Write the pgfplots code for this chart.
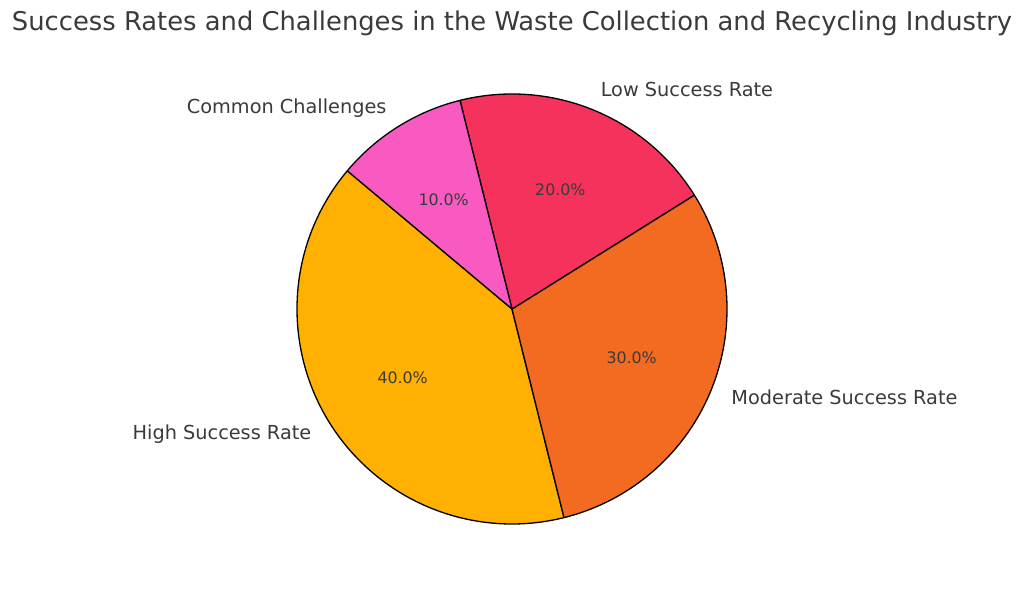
\documentclass[border=0pt]{standalone}
\usepackage{pgfplots}
\pgfplotsset{compat=1.18}
\usepackage{fontspec}
\setmainfont{DejaVu Sans}
\definecolor{cHigh}{HTML}{FFB000}
\definecolor{cMod}{HTML}{F26B21}
\definecolor{cLow}{HTML}{F5325B}
\definecolor{cCom}{HTML}{F85AC1}
\definecolor{txt}{HTML}{3A3A3A}
% values (percent) and start angle of first slice
\def\vHigh{40}
\def\vMod{30}
\def\vLow{20}
\def\vCom{10}
\def\startA{140}
\def\cx{512}
\def\cy{280}
\def\R{215}
\pgfmathsetmacro{\aA}{\startA}
\pgfmathsetmacro{\aB}{\aA+3.6*\vHigh}
\pgfmathsetmacro{\aC}{\aB+3.6*\vMod}
\pgfmathsetmacro{\aD}{\aC+3.6*\vLow}
\pgfmathsetmacro{\aE}{\aD+3.6*\vCom}
% percentage positions (0.6 R) and label positions (1.1 R)
\newcommand\pos[4]{%
  \pgfmathsetmacro{#3}{\cx+#2*\R*cos(#1)}%
  \pgfmathsetmacro{#4}{\cy+#2*\R*sin(#1)}}
\pos{(\aA+\aB)/2}{0.6}{\pHx}{\pHy}\pos{(\aA+\aB)/2}{1.1}{\lHx}{\lHy}
\pos{(\aB+\aC)/2}{0.6}{\pMx}{\pMy}\pos{(\aB+\aC)/2}{1.1}{\lMx}{\lMy}
\pos{(\aC+\aD)/2}{0.6}{\pLx}{\pLy}\pos{(\aC+\aD)/2}{1.1}{\lLx}{\lLy}
\pos{(\aD+\aE)/2}{0.6}{\pCx}{\pCy}\pos{(\aD+\aE)/2}{1.1}{\lCx}{\lCy}
\begin{document}
\begin{tikzpicture}
\begin{axis}[
  width=1024pt, height=589pt, scale only axis,
  xmin=0, xmax=1024, ymin=0, ymax=589,
  hide axis, clip=false,
]
\path (axis cs:0,0) rectangle (axis cs:1024,589);
\filldraw[fill=cHigh,draw=black,line width=1.3pt,line join=round] (axis cs:\cx,\cy) -- ++(\aA:\R pt) arc[start angle=\aA,end angle=\aB,radius=\R pt] -- cycle;
\filldraw[fill=cMod,draw=black,line width=1.3pt,line join=round] (axis cs:\cx,\cy) -- ++(\aB:\R pt) arc[start angle=\aB,end angle=\aC,radius=\R pt] -- cycle;
\filldraw[fill=cLow,draw=black,line width=1.3pt,line join=round] (axis cs:\cx,\cy) -- ++(\aC:\R pt) arc[start angle=\aC,end angle=\aD,radius=\R pt] -- cycle;
\filldraw[fill=cCom,draw=black,line width=1.3pt,line join=round] (axis cs:\cx,\cy) -- ++(\aD:\R pt) arc[start angle=\aD,end angle=\aE,radius=\R pt] -- cycle;
\begin{scope}[every node/.style={text=txt,inner sep=0pt,font=\fontsize{15.8}{18}\selectfont}]
\node at (axis cs:\pHx,\pHy) {\vHigh.0\%};
\node at (axis cs:\pMx,\pMy) {\vMod.0\%};
\node at (axis cs:\pLx,\pLy) {\vLow.0\%};
\node at (axis cs:\pCx,\pCy) {\vCom.0\%};
\end{scope}
\begin{scope}[every node/.style={text=txt,inner sep=0pt,font=\fontsize{19.3}{22}\selectfont}]
\node[anchor=east] at (axis cs:\lHx,\lHy) {High Success Rate};
\node[anchor=west] at (axis cs:\lMx,\lMy) {Moderate Success Rate};
\node[anchor=west] at (axis cs:\lLx,\lLy) {Low Success Rate};
\node[anchor=east] at (axis cs:\lCx,\lCy) {Common Challenges};
\end{scope}
\node[text=txt,inner sep=0pt,font=\fontsize{25.8}{30}\selectfont] at (axis cs:512,566) {Success Rates and Challenges in the Waste Collection and Recycling Industry};
\end{axis}
\end{tikzpicture}
\end{document}
